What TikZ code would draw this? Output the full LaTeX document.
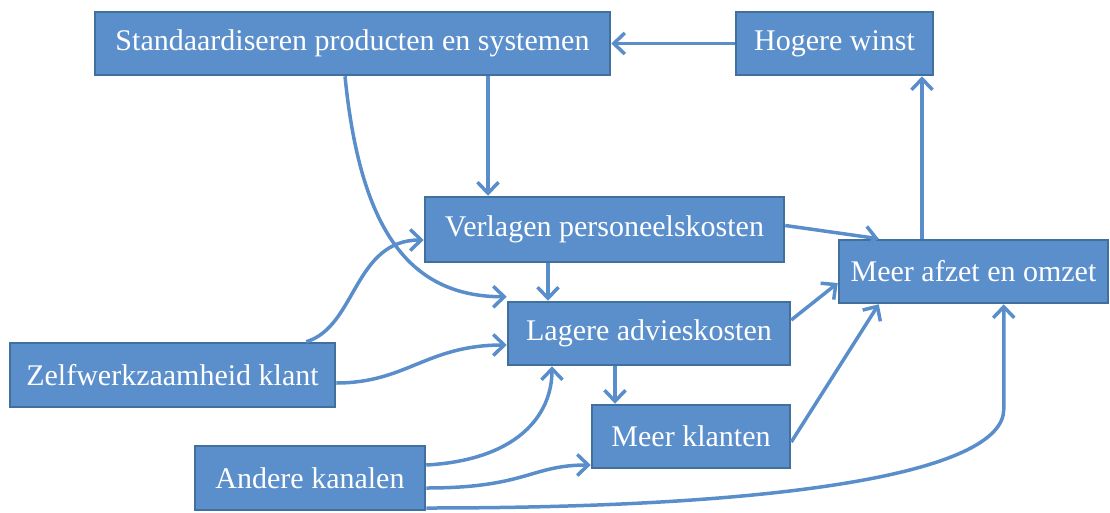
\documentclass[tikz,border=0pt]{standalone}
\usepackage{fontspec}
\setmainfont{Liberation Serif}
\usepackage{tikz}
\usetikzlibrary{arrows.meta}
\definecolor{boxblue}{HTML}{5B8FCC}
\definecolor{boxedge}{HTML}{41709F}
\definecolor{linkblue}{HTML}{5A8ECB}

\begin{document}
\begin{tikzpicture}[x=1pt,y=-1pt,
      box/.style={rectangle,draw=boxedge,line width=2.5pt,fill=boxblue,
                  text=white,font=\fontsize{30}{33}\selectfont,
                  minimum height=63pt,inner sep=0pt},
      arr/.style={-{Straight Barb[length=11pt,width=21pt,line width=3.5pt]},
                  draw=linkblue,line width=3.5pt},
      rarr/.style={{Straight Barb[length=11pt,width=21pt,line width=3.5pt]}-,
                  draw=linkblue,line width=3.5pt}]
    \useasboundingbox (0,0) rectangle (1110,512);
    %% ── Top row ──────────────────────────────────────────────
    \node[box,minimum width=515pt] (std)   at (352.5,43.5) {Standaardiseren producten en systemen};
    \node[box,minimum width=197pt] (winst) at (834.5,43.5) {Hogere winst};
    %% ── Middle ───────────────────────────────────────────────
    \node[box,minimum width=359pt,minimum height=65pt] (pers) at (604.5,229.5) {Verlagen personeelskosten};
    \node[box,minimum width=269pt] (afzet)   at (973.5,271.5) {Meer afzet en omzet};
    \node[box,minimum width=282pt] (advies)  at (649,333.5)   {Lagere advieskosten};
    \node[box,minimum width=325pt,minimum height=64pt] (zelf) at (172.5,375) {Zelfwerkzaamheid klant};
    %% ── Bottom ───────────────────────────────────────────────
    \node[box,minimum width=198pt] (klanten) at (691,436.5)   {Meer klanten};
    \node[box,minimum width=230pt,minimum height=64pt] (kanalen) at (310,478) {Andere kanalen};
    %% ── Straight arrows ──────────────────────────────────────
    \draw[arr] (winst.west)--(std.east);
    \draw[arr] ([xshift=135.5]std.south)--([xshift=135.5]std.south |- pers.north);
    \draw[arr] ([xshift=-56.5]pers.south)--([xshift=-56.5]pers.south |- advies.north);
    \draw[arr] ([xshift=-34]advies.south)--([xshift=-34]advies.south |- klanten.north);
    \draw[arr] ([xshift=-51.5]afzet.north)--([xshift=-51.5]afzet.north |- winst.south);
    \draw[arr] ([yshift=4]pers.east)--([xshift=41]afzet.north west);
    \draw[arr] ([yshift=13.5]advies.east)--([yshift=-11.5]afzet.west);
    \draw[arr] ([yshift=-5.5]klanten.east)--([xshift=41]afzet.south west);
    %% ── Curved arrows ────────────────────────────────────────
    \draw[arr] ([xshift=-7.5]std.south) .. controls +(15,150) and +(-100,0) .. ([yshift=4]advies.north west);
    \draw[arr] ([xshift=-30]zelf.north east) .. controls +(50,-15) and +(-70,0) .. ([yshift=-10.5]pers.west);
    \draw[arr] ([yshift=-8]zelf.east) .. controls +(70,0) and +(-80,0) .. ([yshift=-11.5]advies.west);
    \draw[arr] ([yshift=13]kanalen.east) .. controls +(90,-5) and +(0,50) .. ([xshift=-97]advies.south);
    \draw[arr] ([yshift=-10]kanalen.east) .. controls +(100,0) and +(-60,0) .. ([yshift=-28.5]klanten.west);
    \draw[rarr] ([xshift=166]afzet.south west) -- ++(0,105) .. controls +(0,60) and +(380,0) .. ([yshift=-30]kanalen.east);
  \end{tikzpicture}
\end{document}
